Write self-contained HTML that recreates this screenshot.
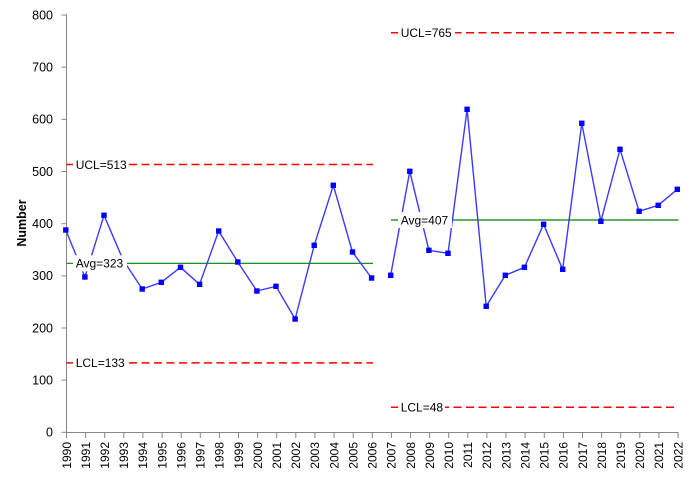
<!DOCTYPE html>
<html>
<head>
<meta charset="utf-8">
<style>
  html, body { margin:0; padding:0; background:#fff; }
  svg { display:block; }
  text { font-family: "Liberation Sans", Arial, sans-serif; fill:#000; }
</style>
</head>
<body>
<svg width="693" height="499" viewBox="0 0 693 499" xmlns="http://www.w3.org/2000/svg">
  <rect x="0" y="0" width="693" height="499" fill="#fff"/>

  <!-- Axes -->
  <g stroke="#868686" stroke-width="1" fill="none">
    <line x1="66.5" y1="14.5" x2="66.5" y2="432.5"/>
    <line x1="66.5" y1="432.5" x2="678.5" y2="432.5"/>
    <!-- y ticks -->
    <line x1="61.5" y1="15.0" x2="66.5" y2="15.0"/>
    <line x1="61.5" y1="67.2" x2="66.5" y2="67.2"/>
    <line x1="61.5" y1="119.3" x2="66.5" y2="119.3"/>
    <line x1="61.5" y1="171.5" x2="66.5" y2="171.5"/>
    <line x1="61.5" y1="223.7" x2="66.5" y2="223.7"/>
    <line x1="61.5" y1="275.8" x2="66.5" y2="275.8"/>
    <line x1="61.5" y1="328.0" x2="66.5" y2="328.0"/>
    <line x1="61.5" y1="380.2" x2="66.5" y2="380.2"/>
    <line x1="61.5" y1="432.3" x2="66.5" y2="432.3"/>
    <!-- x ticks -->
    <line x1="66.5" y1="432.5" x2="66.5" y2="438"/>
    <line x1="85.6" y1="432.5" x2="85.6" y2="438"/>
    <line x1="104.7" y1="432.5" x2="104.7" y2="438"/>
    <line x1="123.8" y1="432.5" x2="123.8" y2="438"/>
    <line x1="142.9" y1="432.5" x2="142.9" y2="438"/>
    <line x1="162.1" y1="432.5" x2="162.1" y2="438"/>
    <line x1="181.2" y1="432.5" x2="181.2" y2="438"/>
    <line x1="200.3" y1="432.5" x2="200.3" y2="438"/>
    <line x1="219.4" y1="432.5" x2="219.4" y2="438"/>
    <line x1="238.5" y1="432.5" x2="238.5" y2="438"/>
    <line x1="257.6" y1="432.5" x2="257.6" y2="438"/>
    <line x1="276.7" y1="432.5" x2="276.7" y2="438"/>
    <line x1="295.8" y1="432.5" x2="295.8" y2="438"/>
    <line x1="314.9" y1="432.5" x2="314.9" y2="438"/>
    <line x1="334.0" y1="432.5" x2="334.0" y2="438"/>
    <line x1="353.2" y1="432.5" x2="353.2" y2="438"/>
    <line x1="372.3" y1="432.5" x2="372.3" y2="438"/>
    <line x1="391.4" y1="432.5" x2="391.4" y2="438"/>
    <line x1="410.5" y1="432.5" x2="410.5" y2="438"/>
    <line x1="429.6" y1="432.5" x2="429.6" y2="438"/>
    <line x1="448.7" y1="432.5" x2="448.7" y2="438"/>
    <line x1="467.8" y1="432.5" x2="467.8" y2="438"/>
    <line x1="486.9" y1="432.5" x2="486.9" y2="438"/>
    <line x1="506.0" y1="432.5" x2="506.0" y2="438"/>
    <line x1="525.1" y1="432.5" x2="525.1" y2="438"/>
    <line x1="544.3" y1="432.5" x2="544.3" y2="438"/>
    <line x1="563.4" y1="432.5" x2="563.4" y2="438"/>
    <line x1="582.5" y1="432.5" x2="582.5" y2="438"/>
    <line x1="601.6" y1="432.5" x2="601.6" y2="438"/>
    <line x1="620.7" y1="432.5" x2="620.7" y2="438"/>
    <line x1="639.8" y1="432.5" x2="639.8" y2="438"/>
    <line x1="658.9" y1="432.5" x2="658.9" y2="438"/>
    <line x1="678.0" y1="432.5" x2="678.0" y2="438"/>
  </g>

  <!-- Y tick labels -->
  <g font-size="12.5" text-anchor="end">
    <text x="53" y="19.3">800</text>
    <text x="53" y="71.5">700</text>
    <text x="53" y="123.6">600</text>
    <text x="53" y="175.8">500</text>
    <text x="53" y="228.0">400</text>
    <text x="53" y="280.1">300</text>
    <text x="53" y="332.3">200</text>
    <text x="53" y="384.5">100</text>
    <text x="53" y="436.6">0</text>
  </g>

  <!-- Y axis title -->
  <text transform="translate(26,223) rotate(-90)" font-size="12.5" font-weight="bold" text-anchor="middle">Number</text>

  <!-- X tick labels -->
  <g font-size="12" text-anchor="end">
    <text transform="translate(70.8,442) rotate(-90)">1990</text>
    <text transform="translate(89.9,442) rotate(-90)">1991</text>
    <text transform="translate(109.0,442) rotate(-90)">1992</text>
    <text transform="translate(128.1,442) rotate(-90)">1993</text>
    <text transform="translate(147.2,442) rotate(-90)">1994</text>
    <text transform="translate(166.4,442) rotate(-90)">1995</text>
    <text transform="translate(185.5,442) rotate(-90)">1996</text>
    <text transform="translate(204.6,442) rotate(-90)">1997</text>
    <text transform="translate(223.7,442) rotate(-90)">1998</text>
    <text transform="translate(242.8,442) rotate(-90)">1999</text>
    <text transform="translate(261.9,442) rotate(-90)">2000</text>
    <text transform="translate(281.0,442) rotate(-90)">2001</text>
    <text transform="translate(300.1,442) rotate(-90)">2002</text>
    <text transform="translate(319.2,442) rotate(-90)">2003</text>
    <text transform="translate(338.3,442) rotate(-90)">2004</text>
    <text transform="translate(357.5,442) rotate(-90)">2005</text>
    <text transform="translate(376.6,442) rotate(-90)">2006</text>
    <text transform="translate(395.7,442) rotate(-90)">2007</text>
    <text transform="translate(414.8,442) rotate(-90)">2008</text>
    <text transform="translate(433.9,442) rotate(-90)">2009</text>
    <text transform="translate(453.0,442) rotate(-90)">2010</text>
    <text transform="translate(472.1,442) rotate(-90)">2011</text>
    <text transform="translate(491.2,442) rotate(-90)">2012</text>
    <text transform="translate(510.3,442) rotate(-90)">2013</text>
    <text transform="translate(529.4,442) rotate(-90)">2014</text>
    <text transform="translate(548.6,442) rotate(-90)">2015</text>
    <text transform="translate(567.7,442) rotate(-90)">2016</text>
    <text transform="translate(586.8,442) rotate(-90)">2017</text>
    <text transform="translate(605.9,442) rotate(-90)">2018</text>
    <text transform="translate(625.0,442) rotate(-90)">2019</text>
    <text transform="translate(644.1,442) rotate(-90)">2020</text>
    <text transform="translate(663.2,442) rotate(-90)">2021</text>
    <text transform="translate(682.3,442) rotate(-90)">2022</text>
  </g>

  <!-- Average lines -->
  <g stroke="#008000" stroke-width="1.2">
    <line x1="66.5" y1="263.3" x2="373" y2="263.3"/>
    <line x1="391" y1="220" x2="678.5" y2="220"/>
  </g>

  <!-- Control limits -->
  <g stroke="#ff0000" stroke-width="1.5" stroke-dasharray="8 4.5" fill="none">
    <line x1="66.5" y1="164.5" x2="373" y2="164.5"/>
    <line x1="66.5" y1="362.9" x2="373" y2="362.9"/>
    <line x1="391" y1="32.8" x2="678.5" y2="32.8"/>
    <line x1="391" y1="407.3" x2="678.5" y2="407.3"/>
  </g>

  <!-- Data line -->
  <g stroke="#3a3aff" stroke-width="1.4" fill="none" stroke-linejoin="round">
    <polyline points="65.8,230 84.91,277 104.02,215.3 123.13,260 142.24,289 161.35,282.3 180.46,267.3 199.57,284.3 218.68,231 237.79,262 256.9,291 276.01,286.3 295.12,319 314.23,245.3 333.34,185.3 352.45,252 371.56,278"/>
    <polyline points="390.67,275.3 409.78,171.3 428.89,250.3 448.0,253.3 467.11,109.3 486.22,306.3 505.33,275.3 524.44,267.3 543.55,224.3 562.66,269.3 581.77,123.3 600.88,221.3 619.99,149.3 639.1,211.3 658.21,205.3 677.32,189.3"/>
  </g>

  <!-- Markers -->
  <g fill="#0000ff">
    <rect x="63.1" y="227.3" width="5.4" height="5.4"/>
    <rect x="82.2" y="274.3" width="5.4" height="5.4"/>
    <rect x="101.3" y="212.6" width="5.4" height="5.4"/>
    <rect x="120.4" y="257.3" width="5.4" height="5.4"/>
    <rect x="139.5" y="286.3" width="5.4" height="5.4"/>
    <rect x="158.6" y="279.6" width="5.4" height="5.4"/>
    <rect x="177.8" y="264.6" width="5.4" height="5.4"/>
    <rect x="196.9" y="281.6" width="5.4" height="5.4"/>
    <rect x="216.0" y="228.3" width="5.4" height="5.4"/>
    <rect x="235.1" y="259.3" width="5.4" height="5.4"/>
    <rect x="254.2" y="288.3" width="5.4" height="5.4"/>
    <rect x="273.3" y="283.6" width="5.4" height="5.4"/>
    <rect x="292.4" y="316.3" width="5.4" height="5.4"/>
    <rect x="311.5" y="242.6" width="5.4" height="5.4"/>
    <rect x="330.6" y="182.6" width="5.4" height="5.4"/>
    <rect x="349.8" y="249.3" width="5.4" height="5.4"/>
    <rect x="368.9" y="275.3" width="5.4" height="5.4"/>
    <rect x="388.0" y="272.6" width="5.4" height="5.4"/>
    <rect x="407.1" y="168.6" width="5.4" height="5.4"/>
    <rect x="426.2" y="247.6" width="5.4" height="5.4"/>
    <rect x="445.3" y="250.6" width="5.4" height="5.4"/>
    <rect x="464.4" y="106.6" width="5.4" height="5.4"/>
    <rect x="483.5" y="303.6" width="5.4" height="5.4"/>
    <rect x="502.6" y="272.6" width="5.4" height="5.4"/>
    <rect x="521.7" y="264.6" width="5.4" height="5.4"/>
    <rect x="540.9" y="221.6" width="5.4" height="5.4"/>
    <rect x="560.0" y="266.6" width="5.4" height="5.4"/>
    <rect x="579.1" y="120.6" width="5.4" height="5.4"/>
    <rect x="598.2" y="218.6" width="5.4" height="5.4"/>
    <rect x="617.3" y="146.6" width="5.4" height="5.4"/>
    <rect x="636.4" y="208.6" width="5.4" height="5.4"/>
    <rect x="655.5" y="202.6" width="5.4" height="5.4"/>
    <rect x="674.6" y="186.6" width="5.4" height="5.4"/>
  </g>

  <!-- Line labels with white boxes -->
  <g fill="#fff">
    <rect x="73" y="156.5" width="56" height="16"/>
    <rect x="73" y="255.3" width="54" height="16"/>
    <rect x="73" y="354.9" width="56" height="16"/>
    <rect x="398" y="24.8" width="57" height="16"/>
    <rect x="398" y="212" width="54" height="16"/>
    <rect x="398" y="399.3" width="47" height="16"/>
  </g>
  <g font-size="12">
    <text x="75.7" y="168.8">UCL=513</text>
    <text x="75.7" y="267.6">Avg=323</text>
    <text x="75.7" y="367.2">LCL=133</text>
    <text x="400.7" y="37.1">UCL=765</text>
    <text x="400.7" y="224.3">Avg=407</text>
    <text x="400.7" y="411.6">LCL=48</text>
  </g>
</svg>
</body>
</html>
